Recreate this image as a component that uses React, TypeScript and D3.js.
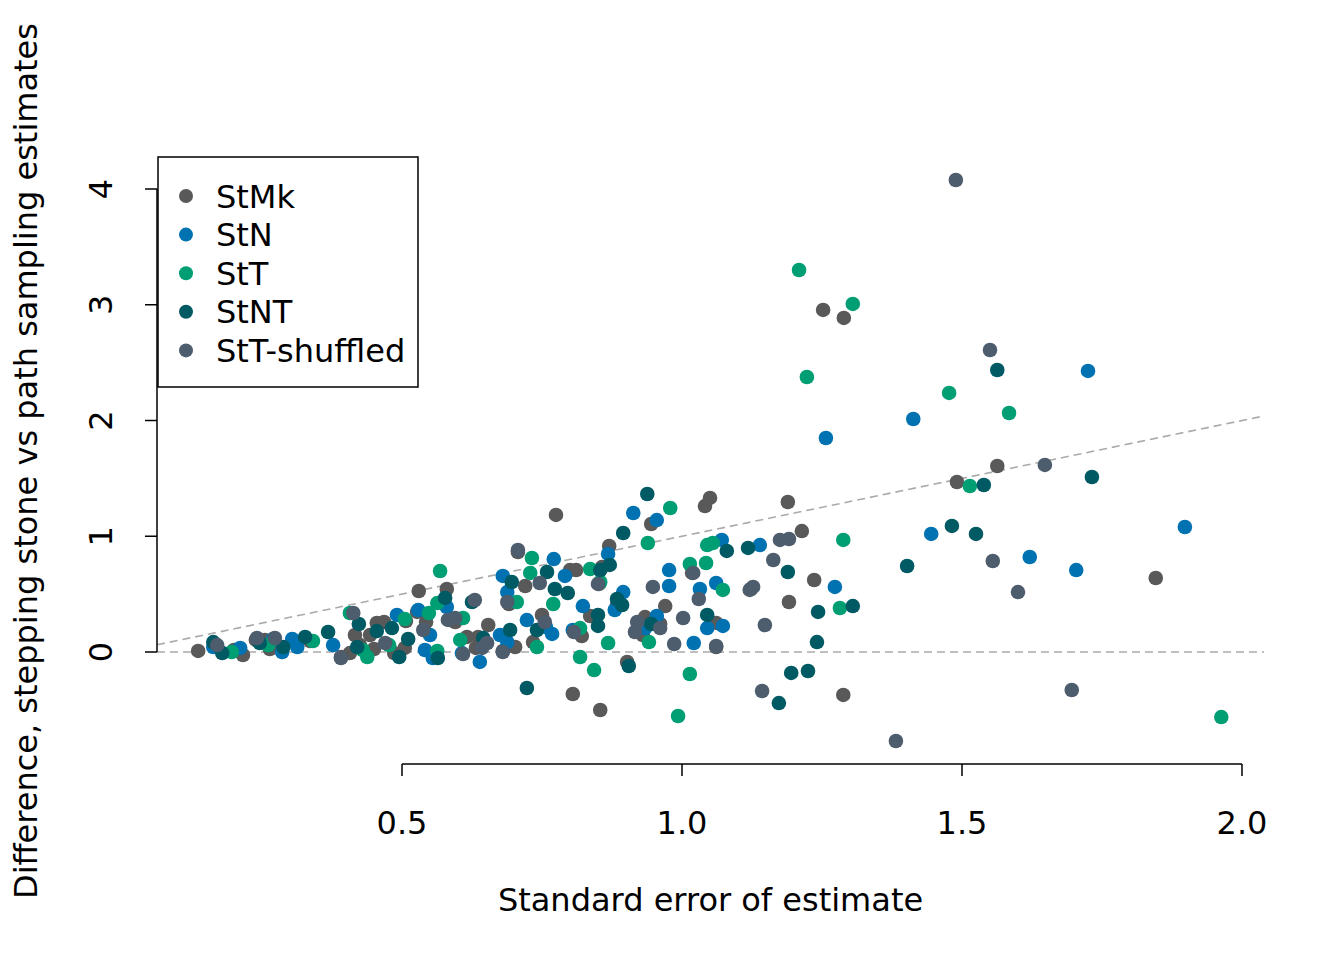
import React from "react";
import * as d3 from "d3";

// [standard error, difference]
const stMk: [number, number][] = [
  [1.252, 2.955], [1.289, 2.886], [1.563, 1.607], [1.491, 1.469], [1.846, 0.639],
  [1.288, -0.371], [1.236, 0.622], [1.191, 0.432], [1.189, 1.296], [1.214, 1.045],
  [1.123, 0.544], [1.05, 1.331], [1.041, 1.261], [1.018, 0.683], [1.061, 0.251],
  [1.061, 0.043], [0.945, 1.106], [0.97, 0.397], [0.934, 0.302], [0.93, 0.147],
  [0.902, -0.086], [0.805, -0.363], [0.854, -0.501], [0.87, 0.916], [0.857, 0.734],
  [0.836, 0.311], [0.821, 0.138], [0.852, 0.588], [0.8, 0.708], [0.811, 0.708],
  [0.775, 1.184], [0.72, 0.57], [0.75, 0.32], [0.734, 0.086], [0.707, 0.864],
  [0.691, 0.415], [0.702, 0.043], [0.68, 0.009], [0.654, 0.233], [0.616, 0.13],
  [0.636, 0.13], [0.58, 0.544], [0.53, 0.527], [0.527, 0.346], [0.543, 0.259],
  [0.507, 0.268], [0.505, 0.035], [0.486, -0.009], [0.455, 0.251], [0.468, 0.259],
  [0.443, 0.147], [0.45, 0.026], [0.416, 0.147], [0.407, -0.009], [0.391, -0.043],
  [0.336, 0.095], [0.255, 0.104], [0.264, 0.026], [0.239, 0.104], [0.216, -0.026],
  [0.2, 0.017], [0.136, 0.009], [0.884, 0.406], [0.961, 0.242], [0.595, 0.259],
  [0.632, 0.035], [0.425, 0.06],
];

const stN: [number, number][] = [
  [1.725, 2.428], [1.413, 2.013], [1.257, 1.849], [1.445, 1.02], [1.898, 1.08],
  [1.621, 0.821], [1.704, 0.708], [1.273, 0.562], [1.139, 0.924], [1.071, 0.968],
  [1.032, 0.544], [1.061, 0.596], [1.045, 0.207], [1.073, 0.225], [1.021, 0.078],
  [0.913, 1.201], [0.955, 1.14], [0.977, 0.708], [0.977, 0.57], [0.895, 0.518],
  [0.88, 0.363], [0.955, 0.311], [0.868, 0.847], [0.823, 0.397], [0.771, 0.803],
  [0.791, 0.657], [0.68, 0.657], [0.688, 0.518], [0.723, 0.276], [0.768, 0.156],
  [0.805, 0.19], [0.675, 0.147], [0.688, 0.086], [0.639, -0.086], [0.607, -0.009],
  [0.58, 0.389], [0.529, 0.363], [0.491, 0.32], [0.55, 0.147], [0.541, 0.017],
  [0.555, -0.052], [0.377, 0.06], [0.27, 0.112], [0.304, 0.112], [0.313, 0.043],
  [0.211, 0.035], [0.163, 0.043], [0.286, 0.0], [0.757, 0.216], [0.934, 0.207],
];

const stT: [number, number][] = [
  [1.209, 3.3], [1.305, 3.007], [1.223, 2.376], [1.477, 2.238], [1.584, 2.065],
  [1.514, 1.434], [1.963, -0.562], [1.288, 0.968], [1.282, 0.38], [1.045, 0.924],
  [1.055, 0.942], [1.014, 0.76], [1.043, 0.769], [1.073, 0.536], [1.014, -0.19],
  [0.993, -0.553], [0.979, 1.244], [0.939, 0.942], [0.941, 0.086], [0.868, 0.078],
  [0.843, -0.156], [0.818, -0.043], [0.836, 0.717], [0.854, 0.605], [0.818, 0.207],
  [0.77, 0.415], [0.732, 0.812], [0.729, 0.683], [0.705, 0.432], [0.741, 0.043],
  [0.604, 0.104], [0.609, 0.294], [0.568, 0.7], [0.563, 0.423], [0.548, 0.337],
  [0.505, 0.285], [0.563, 0.009], [0.407, 0.337], [0.43, 0.017], [0.438, -0.043],
  [0.341, 0.095], [0.261, 0.06], [0.196, 0.0], [0.477, 0.06],
];

const stNT: [number, number][] = [
  [1.563, 2.436], [1.732, 1.512], [1.539, 1.443], [1.482, 1.089], [1.525, 1.02],
  [1.402, 0.743], [1.305, 0.397], [1.243, 0.346], [1.241, 0.086], [1.225, -0.164],
  [1.195, -0.181], [1.173, -0.441], [1.189, 0.691], [1.118, 0.899], [1.08, 0.873],
  [1.045, 0.32], [0.938, 1.365], [0.895, 1.028], [0.871, 0.752], [0.884, 0.458],
  [0.893, 0.406], [0.945, 0.242], [0.85, 0.32], [0.85, 0.225], [0.905, -0.121],
  [0.723, -0.311], [0.759, 0.691], [0.773, 0.544], [0.796, 0.51], [0.696, 0.605],
  [0.741, 0.19], [0.693, 0.19], [0.645, 0.121], [0.625, 0.432], [0.577, 0.467],
  [0.511, 0.112], [0.495, -0.043], [0.564, -0.052], [0.482, 0.207], [0.455, 0.181],
  [0.423, 0.242], [0.42, 0.043], [0.368, 0.173], [0.327, 0.13], [0.288, 0.043],
  [0.179, -0.009], [0.163, 0.086], [0.246, 0.078], [0.854, 0.708],
];

const stTShuffled: [number, number][] = [
  [1.489, 4.078], [1.55, 2.609], [1.648, 1.616], [1.555, 0.786], [1.6, 0.518],
  [1.696, -0.328], [1.382, -0.769], [1.143, -0.337], [1.148, 0.233], [1.163, 0.795],
  [1.175, 0.968], [1.191, 0.976], [1.121, 0.536], [1.127, 0.562], [1.03, 0.458],
  [1.02, 0.683], [1.061, 0.052], [1.002, 0.294], [0.986, 0.069], [0.948, 0.562],
  [0.92, 0.259], [0.961, 0.207], [0.916, 0.173], [0.85, 0.588], [0.746, 0.596],
  [0.707, 0.881], [0.688, 0.432], [0.755, 0.259], [0.68, 0.0], [0.643, 0.035],
  [0.63, 0.449], [0.582, 0.277], [0.595, 0.294], [0.538, 0.19], [0.47, 0.078],
  [0.413, 0.337], [0.391, -0.052], [0.241, 0.121], [0.273, 0.121], [0.17, 0.06],
  [0.609, -0.017], [0.807, 0.173], [0.652, 0.078],
];

const seriesNames = ["StMk", "StN", "StT", "StNT", "StT-shuffled"];
const seriesColors = ["#595959", "#0072B2", "#009E73", "#005A64", "#4E5D6E"];
const seriesData = [stMk, stN, stT, stNT, stTShuffled];

const xTicks = [0.5, 1.0, 1.5, 2.0];
const yTicks = [0, 1, 2, 3, 4];

const FONT = "DejaVu Sans, sans-serif";

export default function App() {
  const width = 1344;
  const height = 960;
  const plot = { left: 157, right: 1264, top: 158, bottom: 764 };

  const x = d3.scaleLinear().domain([0.5, 2.0]).range([402, 1242]);
  const y = d3.scaleLinear().domain([0, 4]).range([652, 189]);

  const x0 = x.invert(plot.left);
  const x1 = x.invert(plot.right);
  const fs = 32;

  return (
    <svg
      width={width}
      height={height}
      style={{ position: "absolute", left: 0, top: 0, background: "#fff" }}
      fontFamily={FONT}
    >
      <defs>
        <clipPath id="plotArea">
          <rect x={plot.left} y={plot.top} width={plot.right - plot.left} height={plot.bottom - plot.top} />
        </clipPath>
      </defs>

      {/* reference lines */}
      <g clipPath="url(#plotArea)" stroke="#AAAAAA" strokeWidth={1.6} strokeDasharray="8,5" fill="none">
        <line x1={x(x0)} x2={x(x1)} y1={y(0)} y2={y(0)} />
        <line x1={x(x0)} x2={x(x1)} y1={y(x0)} y2={y(x1)} />
      </g>

      {/* points */}
      <g>
        {seriesData.map((pts, si) =>
          pts.map((d, i) => (
            <circle key={`${si}-${i}`} cx={x(d[0])} cy={y(d[1])} r={7.3} fill={seriesColors[si]} />
          ))
        )}
      </g>

      {/* x axis */}
      <g stroke="#000" strokeWidth={1.5}>
        <line x1={x(xTicks[0])} x2={x(xTicks[xTicks.length - 1])} y1={plot.bottom} y2={plot.bottom} />
        {xTicks.map((t) => (
          <line key={t} x1={x(t)} x2={x(t)} y1={plot.bottom} y2={plot.bottom + 12} />
        ))}
      </g>
      {xTicks.map((t) => (
        <text key={t} x={x(t)} y={834} textAnchor="middle" fontSize={fs} fill="#000">
          {d3.format(".1f")(t)}
        </text>
      ))}
      <text x={(plot.left + plot.right) / 2} y={911} textAnchor="middle" fontSize={fs} fill="#000">
        Standard error of estimate
      </text>

      {/* y axis */}
      <g stroke="#000" strokeWidth={1.5}>
        <line x1={plot.left} x2={plot.left} y1={y(yTicks[0])} y2={y(yTicks[yTicks.length - 1])} />
        {yTicks.map((t) => (
          <line key={t} x1={plot.left} x2={plot.left - 12} y1={y(t)} y2={y(t)} />
        ))}
      </g>
      {yTicks.map((t) => (
        <text
          key={t}
          transform={`translate(112,${y(t)}) rotate(-90)`}
          textAnchor="middle"
          fontSize={fs}
          fill="#000"
        >
          {t}
        </text>
      ))}
      <text
        transform={`translate(37,${(plot.top + plot.bottom) / 2}) rotate(-90)`}
        textAnchor="middle"
        fontSize={fs}
        fill="#000"
      >
        Difference, stepping stone vs path sampling estimates
      </text>

      {/* legend */}
      <g>
        <rect x={158} y={157} width={260} height={230} fill="#fff" stroke="#000" strokeWidth={1.5} />
        {seriesNames.map((name, i) => (
          <g key={name} transform={`translate(0,${196 + i * 38.6})`}>
            <circle cx={186} cy={0} r={7} fill={seriesColors[i]} />
            <text x={216} y={11.5} fontSize={fs} fill="#000">
              {name}
            </text>
          </g>
        ))}
      </g>
    </svg>
  );
}
